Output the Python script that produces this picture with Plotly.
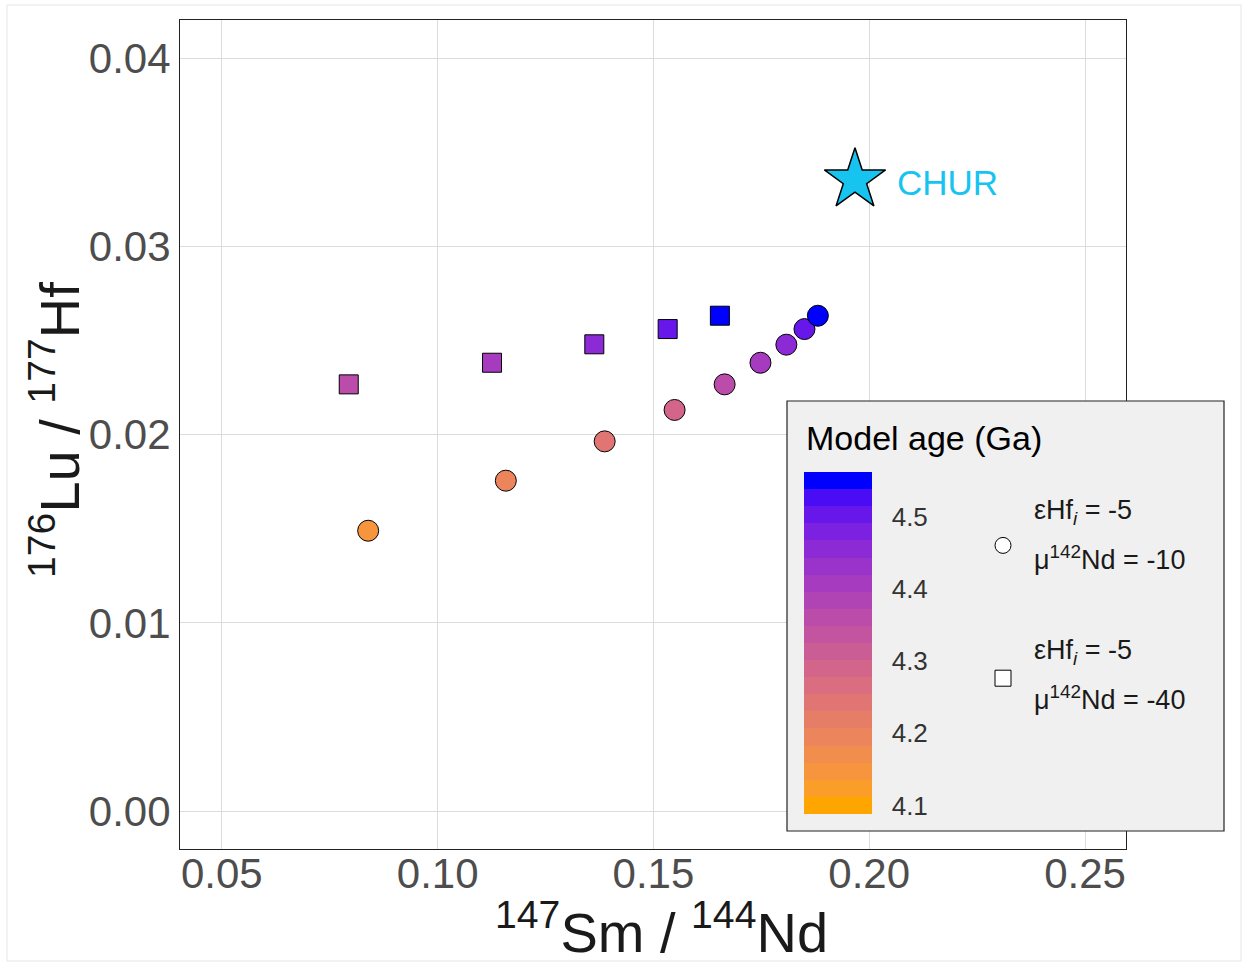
import plotly.graph_objects as go

# ---------------- data ----------------
sm_circle = [0.0839, 0.1158, 0.1387, 0.1549, 0.1665, 0.1748, 0.1808, 0.1850, 0.1881]
lu_circle = [0.01490, 0.01756, 0.01965, 0.02132, 0.02268, 0.02383, 0.02479, 0.02562, 0.02633]
age_circle = [4.15, 4.20, 4.25, 4.30, 4.35, 4.40, 4.45, 4.50, 4.55]

sm_square = [0.0794, 0.1126, 0.1363, 0.1533, 0.1654]
lu_square = [0.02268, 0.02383, 0.02481, 0.02562, 0.02633]
age_square = [4.35, 4.40, 4.45, 4.50, 4.55]

chur_sm = [0.1967]
chur_lu = [0.03355]
chur_label = ["CHUR"]

age_ticks = [4.1, 4.2, 4.3, 4.4, 4.5]
age_limits = [4.1, 4.55]
x_ticks = [0.05, 0.10, 0.15, 0.20, 0.25]
y_ticks = [0.00, 0.01, 0.02, 0.03, 0.04]

legend_circle_lines = ["εHf<sub><i>i</i></sub> = -5", "μ<sup>142</sup>Nd = -10"]
legend_square_lines = ["εHf<sub><i>i</i></sub> = -5", "μ<sup>142</sup>Nd = -40"]

# ---------------- colour ramp (Lab interpolation orange -> blue) ----------------
def _lin(c):
    c = c / 255.0
    return c / 12.92 if c <= 0.04045 else ((c + 0.055) / 1.055) ** 2.4

def _unlin(c):
    c = 12.92 * c if c <= 0.0031308 else 1.055 * c ** (1 / 2.4) - 0.055
    return max(0, min(255, round(c * 255)))

XN, YN, ZN = 0.95047, 1.0, 1.08883

def hex_to_lab(h):
    r, g, b = [_lin(int(h[i:i + 2], 16)) for i in (1, 3, 5)]
    X = 0.4124564 * r + 0.3575761 * g + 0.1804375 * b
    Y = 0.2126729 * r + 0.7151522 * g + 0.0721750 * b
    Z = 0.0193339 * r + 0.1191920 * g + 0.9503041 * b
    def f(t):
        return t ** (1 / 3) if t > 216 / 24389 else (24389 / 27 * t + 16) / 116
    fx, fy, fz = f(X / XN), f(Y / YN), f(Z / ZN)
    return 116 * fy - 16, 500 * (fx - fy), 200 * (fy - fz)

def lab_to_hex(L, a, b):
    fy = (L + 16) / 116
    fx = fy + a / 500
    fz = fy - b / 200
    def finv(t):
        return t ** 3 if t ** 3 > 216 / 24389 else (116 * t - 16) / (24389 / 27)
    X, Y, Z = XN * finv(fx), YN * finv(fy), ZN * finv(fz)
    r = 3.2404542 * X - 1.5371385 * Y - 0.4985314 * Z
    g = -0.9692660 * X + 1.8760108 * Y + 0.0415560 * Z
    bb = 0.0556434 * X - 0.2040259 * Y + 1.0572252 * Z
    return "#%02X%02X%02X" % (_unlin(max(r, 0)), _unlin(max(g, 0)), _unlin(max(bb, 0)))

low_lab = hex_to_lab("#FFA500")
high_lab = hex_to_lab("#0000FF")

def ramp(t):
    return lab_to_hex(*[lo + (hi - lo) * t for lo, hi in zip(low_lab, high_lab)])

# stepped colour bar like ggplot (20 bins, half a bin beyond limits)
NBIN = 20
half = (age_limits[1] - age_limits[0]) / (NBIN - 1) / 2
cmin = age_limits[0] - half
cmax = age_limits[1] + half
colorscale = []
for i in range(NBIN):
    c = ramp(i / (NBIN - 1))
    colorscale.append([i / NBIN, c])
    colorscale.append([(i + 1) / NBIN, c])

FONT = "Liberation Sans, Arial, Helvetica, sans-serif"
CHUR_COLOR = "#17C4F0"

# ---------------- layout geometry (pixels) ----------------
W, H = 1250, 966
L, R, T, B = 180, 1126, 20, 849
pw, ph = R - L, B - T

def px(x):
    return (x - L) / pw

def py(y):
    return (B - y) / ph

fig = go.Figure()

fig.add_trace(go.Scatter(
    x=sm_circle, y=lu_circle, mode="markers", showlegend=False,
    marker=dict(symbol="circle", size=21, color=age_circle, colorscale=colorscale,
                cmin=cmin, cmax=cmax, line=dict(color="black", width=1),
                showscale=True,
                colorbar=dict(
                    x=px(804), xanchor="left", xref="paper",
                    y=py(472), yanchor="top", yref="paper",
                    thickness=68, thicknessmode="pixels",
                    len=342, lenmode="pixels",
                    xpad=0, ypad=0, outlinewidth=0,
                    tickvals=age_ticks, ticktext=[f"{v:.1f}" for v in age_ticks],
                    ticks="outside", ticklen=15, tickcolor="rgba(255,255,255,0)",
                    tickfont=dict(family=FONT, size=26, color="#333333"),
                    bgcolor="rgba(0,0,0,0)",
                )),
))

fig.add_trace(go.Scatter(
    x=sm_square, y=lu_square, mode="markers", showlegend=False,
    marker=dict(symbol="square", size=19, color=age_square, colorscale=colorscale,
                cmin=cmin, cmax=cmax, line=dict(color="black", width=1),
                showscale=False),
))

# legend-only entries (white shapes)
fig.add_trace(go.Scatter(
    x=[None], y=[None], mode="markers", name="\u00a0", legendgroup="a",
    marker=dict(symbol="circle", size=21, color="white", line=dict(color="black", width=1)),
))
fig.add_trace(go.Scatter(
    x=[None], y=[None], mode="markers", name="\u00a0", legendgroup="b",
    marker=dict(symbol="square", size=19, color="white", line=dict(color="black", width=1)),
))

fig.add_trace(go.Scatter(
    x=chur_sm, y=chur_lu, mode="markers",
    marker=dict(symbol="star", size=46, color=CHUR_COLOR, line=dict(color="black", width=1.5)),
    showlegend=False,
))

axis_common = dict(
    showgrid=True, gridcolor="#DCDCDC", gridwidth=1,
    zeroline=False, showline=True, mirror=True, linecolor="#222222", linewidth=1,
    ticks="", tickfont=dict(family=FONT, size=42, color="#4D4D4D"),
)

annotations = [
    dict(text="Model age (Ga)", xref="paper", yref="paper",
         x=px(804), y=py(438), xanchor="left", yanchor="middle", showarrow=False,
         font=dict(family=FONT, size=34, color="black")),
    dict(text=chur_label[0], xref="x", yref="y", x=chur_sm[0], y=chur_lu[0],
         xanchor="left", yanchor="middle", xshift=40, yshift=-3, showarrow=False,
         font=dict(family=FONT, size=35, color=CHUR_COLOR)),
    dict(text="<sup>147</sup>Sm / <sup>144</sup>Nd", xref="paper", yref="paper",
         x=px(661), y=py(928), xanchor="center", yanchor="middle", showarrow=False,
         font=dict(family=FONT, size=56, color="#1A1A1A")),
    dict(text="<sup>176</sup>Lu / <sup>177</sup>Hf", xref="paper", yref="paper",
         x=px(55), y=py(430), xanchor="center", yanchor="middle", showarrow=False,
         textangle=-90, font=dict(family=FONT, size=56, color="#1A1A1A")),
]
for lines, (y1, y2) in ((legend_circle_lines, (512, 558)), (legend_square_lines, (652, 698))):
    for txt, yy in zip(lines, (y1, y2)):
        annotations.append(dict(text=txt, xref="paper", yref="paper", x=px(1032), y=py(yy),
                                xanchor="left", yanchor="middle", showarrow=False,
                                font=dict(family=FONT, size=27, color="#1A1A1A")))

fig.update_layout(
    width=W, height=H,
    margin=dict(l=L, r=W - R, t=T, b=H - B, pad=0),
    paper_bgcolor="white", plot_bgcolor="white",
    font=dict(family=FONT),
    xaxis=dict(range=[0.0403, 0.2595], tickvals=x_ticks,
               ticktext=[f"{v:.2f}" for v in x_ticks], ticklabelstandoff=-12,
               **axis_common),
    yaxis=dict(range=[-0.00202, 0.04205], tickvals=y_ticks,
               ticktext=[f"{v:.2f}" for v in y_ticks],
               **axis_common),
    legend=dict(
        x=px(983), xanchor="left", y=py(522), yanchor="top",
        bgcolor="rgba(0,0,0,0)", borderwidth=0,
        font=dict(family=FONT, size=26, color="#1A1A1A"),
        tracegroupgap=96, itemwidth=30, valign="middle",
    ),
    shapes=[
        dict(type="rect", xref="paper", yref="paper",
             x0=px(7), x1=px(1241), y0=py(961), y1=py(5),
             line=dict(color="#E6E6E6", width=1), fillcolor="rgba(0,0,0,0)", layer="below"),
        dict(type="rect", xref="paper", yref="paper",
             x0=px(787), x1=px(1224), y0=py(831), y1=py(401),
             line=dict(color="#222222", width=1.2), fillcolor="#F0F0F0", layer="above"),
    ],
    annotations=annotations,
)

fig.write_html("out.html")
